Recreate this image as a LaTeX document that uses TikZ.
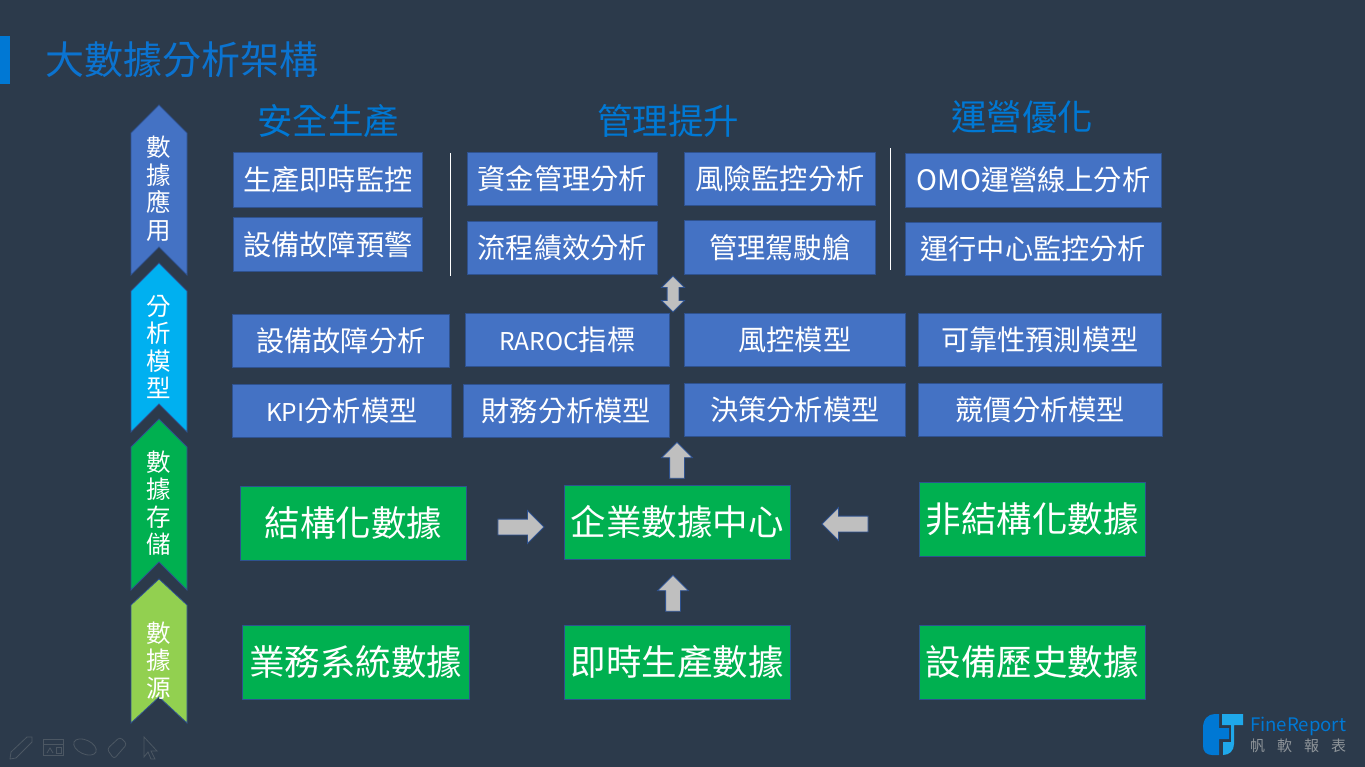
\documentclass[tikz,border=0pt]{standalone}
\usepackage{fontspec}
\usepackage{xcolor}
\usetikzlibrary{arrows.meta,positioning,shapes,calc}
\setmainfont{Noto Sans CJK TC}
\definecolor{slide}{HTML}{2C3A4B}
\definecolor{boxblue}{HTML}{4472C4}
\definecolor{edgeblue}{HTML}{2F528F}
\definecolor{skyblue}{HTML}{00B0F0}
\definecolor{boxgreen}{HTML}{00B050}
\definecolor{limegreen}{HTML}{92D050}
\definecolor{titleblue}{HTML}{0B73D0}
\definecolor{barblue}{HTML}{0078D4}
\definecolor{arrowgray}{HTML}{BFBFBF}
\definecolor{faint}{HTML}{4C5763}
\definecolor{logosky}{HTML}{1FA8EA}
\definecolor{logogray}{HTML}{8E9499}
\newcommand{\latinsize}{\fontsize{24.5}{30}\selectfont}
\tikzset{
  bluebox/.style={draw=edgeblue,fill=boxblue,line width=0.8pt,text=white,
                  inner sep=0pt,minimum height=53pt,align=center,
                  font=\fontsize{28.2}{30}\selectfont},
  greenbox/.style={draw=edgeblue,fill=boxgreen,line width=0.8pt,text=white,
                   inner sep=0pt,minimum width=226pt,minimum height=74pt,align=center,
                   font=\fontsize{35.5}{38}\selectfont},
  heading/.style={text=barblue,inner sep=0pt,font=\fontsize{35.5}{38}\selectfont},
  ribbon/.style={draw=edgeblue,line width=0.8pt},
  ribbontext/.style={text=white,inner sep=0pt,align=center,
                     font=\fontsize{24.5}{27.5}\selectfont},
  uparr/.style={draw=edgeblue,fill=arrowgray,line width=0.8pt,inner sep=7pt,
                single arrow,single arrow head extend=8pt,shape border rotate=90,
                minimum height=36pt},
  siderr/.style={draw=edgeblue,fill=arrowgray,line width=0.8pt,inner sep=7.5pt,
                 single arrow,single arrow head extend=8.5pt,
                 minimum height=46pt},
  bootharr/.style={draw=edgeblue,fill=arrowgray,line width=0.8pt,inner sep=5.5pt,
                   double arrow,double arrow head extend=5.5pt,shape border rotate=90,
                   minimum height=36pt},
  tool/.style={draw=faint,line width=0.8pt}
}
\begin{document}
\begin{tikzpicture}[x=1pt,y=-1pt]
  \useasboundingbox[fill=slide] (0,0) rectangle (1365,767);
  % title
  \fill[barblue] (0,36) rectangle (10,84);
  \node[text=titleblue,inner sep=0pt,anchor=west,font=\fontsize{39}{42}\selectfont] (title) at (45.5,60) {大數據分析架構};
  % ribbons on the left
  \draw[ribbon,fill=boxblue] (159,105) -- (187,133) -- (187,275) -- (159,247) -- (131,275) -- (131,133) -- cycle;
  \draw[ribbon,fill=skyblue] (159,263) -- (187,291) -- (187,432) -- (159,404) -- (131,432) -- (131,291) -- cycle;
  \draw[ribbon,fill=boxgreen] (159,419) -- (187,447) -- (187,590) -- (159,562) -- (131,590) -- (131,447) -- cycle;
  \draw[ribbon,fill=limegreen] (159,579) -- (187,605) -- (187,723) -- (159,697) -- (131,723) -- (131,605) -- cycle;
  \node[ribbontext] (rapp) at (159,189) {數\\據\\應\\用};
  \node[ribbontext] (rmodel) at (159,347) {分\\析\\模\\型};
  \node[ribbontext] (rstore) at (159,503) {數\\據\\存\\儲};
  \node[ribbontext] (rsource) at (159,660.5) {數\\據\\源};
  % headings
  \node[heading] (hsafe) at (328,121) {安全生產};
  \node[heading] (hmanage) at (668,121) {管理提升};
  \node[heading] (hoper) at (1022,117) {運營優化};
  % application row
  \node[bluebox,minimum width=189pt,minimum height=55pt] (live) at (327.8,179.8) {生產即時監控};
  \node[bluebox,minimum width=189pt,minimum height=54pt] (warn) at (327.8,244.3) {設備故障預警};
  \node[bluebox,minimum width=190pt] (fund) at (562.3,178.8) {資金管理分析};
  \node[bluebox,minimum width=190pt] (flow) at (562.3,247.8) {流程績效分析};
  \node[bluebox,minimum width=191pt] (risk) at (779.8,178.8) {風險監控分析};
  \node[bluebox,minimum width=191pt,minimum height=54pt] (cabin) at (779.8,247.3) {管理駕駛艙};
  \node[bluebox,minimum width=256pt,minimum height=54pt] (omo) at (1033.3,180.3) {OMO運營線上分析};
  \node[bluebox,minimum width=256pt] (center) at (1033.3,248.8) {運行中心監控分析};
  \draw[white,line width=0.8pt] (450,153) -- (450,276);
  \draw[white,line width=0.8pt] (890,148) -- (890,270);
  % model rows
  \node[bluebox,minimum width=217pt] (fault) at (340.8,340.8) {設備故障分析};
  \node[bluebox,minimum width=204pt] (raroc) at (567.3,339.8) {{\latinsize RAROC}指標};
  \node[bluebox,minimum width=221pt] (rctl) at (794.8,339.8) {風控模型};
  \node[bluebox,minimum width=243pt] (rely) at (1039.8,339.8) {可靠性預測模型};
  \node[bluebox,minimum width=219pt] (kpi) at (341.8,410.8) {{\latinsize KPI}分析模型};
  \node[bluebox,minimum width=206pt] (fin) at (566.3,410.8) {財務分析模型};
  \node[bluebox,minimum width=221pt] (deci) at (794.8,409.8) {決策分析模型};
  \node[bluebox,minimum width=244pt] (bid) at (1040.3,409.8) {競價分析模型};
  % data boxes
  \node[greenbox] (struct) at (353.3,523.3) {結構化數據};
  \node[greenbox] (hub) at (677.3,522.3) {企業數據中心};
  \node[greenbox] (unstruct) at (1032.3,519.3) {非結構化數據};
  \node[greenbox,minimum width=227pt] (biz) at (355.8,662.3) {業務系統數據};
  \node[greenbox] (prod) at (677.3,662.3) {即時生產數據};
  \node[greenbox] (hist) at (1032.3,662.3) {設備歷史數據};
  % block arrows
  \node[bootharr] (a1) at (673,294) {};
  \node[uparr] (a2) at (677,464) {};
  \node[uparr] (a3) at (673,597) {};
  \node[siderr] (a4) at (517,527) {};
  \node[siderr,shape border rotate=180] (a5) at (849,524) {};
  % faint toolbar
  \draw[tool] (11,752) -- (27,737) -- (32,737) -- (32,742) -- (16,758) -- (10,759) -- cycle;
  \draw[tool] (43,739) rectangle (63,755);
  \draw[tool] (43,744) -- (63,744);
  \draw[tool] (56,747) rectangle (61,753);
  \draw[tool] (47,753) -- (50,748) -- (53,753);
  \draw[tool,rotate around={-25:(85,747)}] (85,747) ellipse (12 and 7);
  \draw[tool,rounded corners=3pt] (107,749) -- (120,737) -- (127,744) -- (114,759) -- cycle;
  \draw[tool] (144,737) -- (157,751) -- (151,751) -- (155,759) -- (151,759) -- (148,752) -- (144,757) -- cycle;
  % logo
  \fill[barblue] (1203,728) .. controls (1203,719) and (1208,714) .. (1215,714) -- (1219,714) -- (1219,728) -- (1229,728) -- (1229,739) -- (1219,739) -- (1219,755) -- (1212,755) .. controls (1206,755) and (1203,751) .. (1203,746) -- cycle;
  \fill[logosky] (1222,714) -- (1243,714) -- (1243,725) -- (1234,725) -- (1234,744) .. controls (1234,751) and (1229,755) .. (1223,755) -- (1223,742) -- (1231,742) -- (1231,725) -- (1222,725) -- cycle;
  \node[text=barblue,inner sep=0pt,anchor=west,font=\fontsize{18.6}{21}\selectfont] (brand) at (1250,726) {FineReport};
  \node[text=logogray,inner sep=0pt,anchor=west,font=\fontsize{15}{17}\selectfont] (brandcn) at (1250,746) {帆\hspace{12pt}軟\hspace{12pt}報\hspace{12pt}表};
\end{tikzpicture}
\end{document}
